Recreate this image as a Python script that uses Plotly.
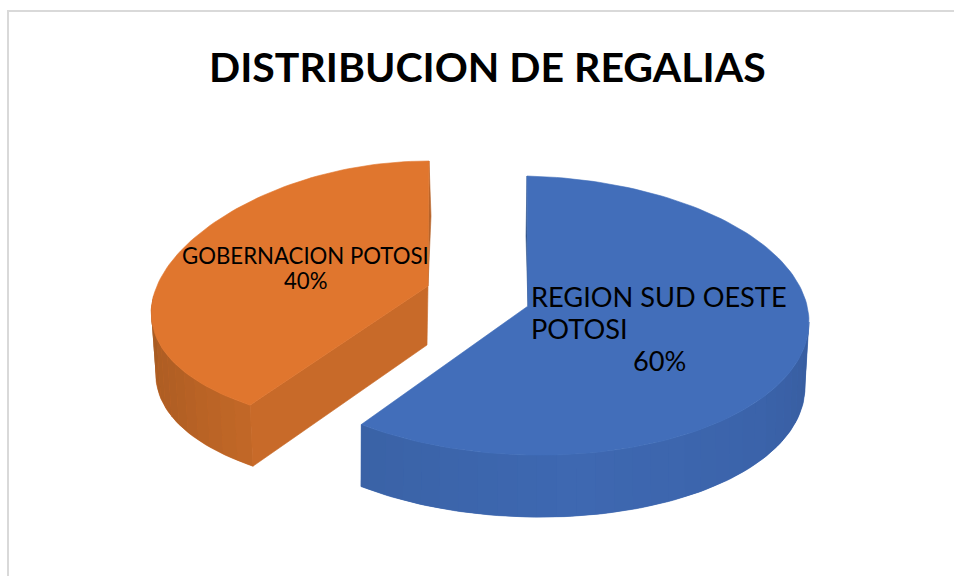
import math
import plotly.graph_objects as go

# ---- data ----
labels = ["REGION SUD OESTE POTOSI", "GOBERNACION POTOSI"]
values = [60, 40]
label_lines = [["REGION SUD OESTE", "POTOSI"], ["GOBERNACION POTOSI"]]
title_text = "DISTRIBUCION DE REGALIAS"

# ---- styling / projection of each exploded slice (pixel-based canvas) ----
W, H = 954, 576
BLUE = dict(top="#426EBA", side="#3D66AF", sliver="#34588F",
            ramp=[(90, "#375C9E"), (125, "#3B63AA"), (170, "#3E68B1"), (216, "#3A62A6")],
            cx=527, cy=315.5, rx=282, ry=139.5, k=0.0, t=6.5, apex=(528, 306),
            bcx=527, bcy=377.5, brx=278, bry=139.5, bk=0.02, bt=6.5)
ORANGE = dict(top="#E0762E", side="#C86A29", sliver="#B8642A",
              ramp=[(216, "#C26827"), (240, "#B25F24"), (270, "#A85B22")],
              cx=429, cy=296, rx=275.5, ry=135, k=0.13, t=0, apex=(428, 286),
              bcx=429, bcy=357, brx=271, bry=135, bk=0.13, bt=0)


def pt(s, th, bottom=False):
    a = math.radians(th)
    if bottom:
        cx, cy, rx, ry, k, t = s["bcx"], s["bcy"], s["brx"], s["bry"], s["bk"], s["bt"]
    else:
        cx, cy, rx, ry, k, t = s["cx"], s["cy"], s["rx"], s["ry"], s["k"], s["t"]
    return (cx + rx * math.sin(a) * (1 - k * math.cos(a)),
            cy - ry * math.cos(a) + t * math.sin(a))


def hex2rgb(c):
    return [int(c[i:i + 2], 16) for i in (1, 3, 5)]


def ramp_color(ramp, th):
    for (a, ca), (b, cb) in zip(ramp, ramp[1:]):
        if a <= th <= b:
            f = (th - a) / (b - a)
            ra, rb = hex2rgb(ca), hex2rgb(cb)
            return "rgb(%d,%d,%d)" % tuple(round(x + (y - x) * f) for x, y in zip(ra, rb))
    return ramp[-1][1]


def poly(fig, pts, color, lw=0.6):
    xs = [p[0] for p in pts] + [pts[0][0]]
    ys = [p[1] for p in pts] + [pts[0][1]]
    fig.add_trace(go.Scatter(x=xs, y=ys, mode="lines", fill="toself", fillcolor=color,
                             line=dict(color=color, width=lw), hoverinfo="skip",
                             showlegend=False))


total = sum(values)
sweep_blue = 360 * values[0] / total          # first slice: 12 o'clock clockwise
start_orange, end_orange = sweep_blue, 360.0

fig = go.Figure()


def arc(s, a, b, bottom=False, step=1.5):
    n = max(2, int(abs(b - a) / step))
    return [pt(s, a + (b - a) * i / n, bottom) for i in range(n + 1)]


def wall(s, a, b, step=4.0):
    # base fill first so the strip seams never show the white page
    poly(fig, arc(s, a, b) + arc(s, b, a, True), s["side"])
    th = a
    while th < b - 1e-6:
        e = min(th + step, b)
        poly(fig, arc(s, th, e, step=1) + arc(s, e, th, True, step=1),
             ramp_color(s["ramp"], (th + e) / 2), lw=0)
        th = e


# orange slice: outer wall, radial wall, back sliver, top
wall(ORANGE, start_orange, 270)
tip = pt(ORANGE, start_orange)
tip_b = pt(ORANGE, start_orange, True)
ax, ay = ORANGE["apex"]
depth = tip_b[1] - tip[1]
poly(fig, [tip, tip_b, (ax - 1, ay + depth - 2), (ax, ay)], ORANGE["side"])
o_top = pt(ORANGE, end_orange)
poly(fig, [o_top, (o_top[0] + 2, ay - 70), (ax, ay)], ORANGE["sliver"])
poly(fig, arc(ORANGE, start_orange, end_orange) + [(ax, ay)], ORANGE["top"])

# blue slice: outer wall, back sliver, top
wall(BLUE, 90, sweep_blue)
b_top = pt(BLUE, 0)
bx, by = BLUE["apex"]
poly(fig, [b_top, (b_top[0] - 1, by - 70), (bx, by)], BLUE["sliver"])
poly(fig, arc(BLUE, 0, sweep_blue) + [(bx, by)], BLUE["top"])

# frame
fig.add_shape(type="rect", x0=8, y0=11, x1=W + 20, y1=H + 20,
              line=dict(color="#D9D9D9", width=2), layer="below")

# text
FONT = "Lato, Carlito, Calibri, sans-serif"
TXT = "#000000"


def note(x, y, text, size, anchor="center", bold=False):
    fig.add_annotation(x=x, y=y, text=f"<b>{text}</b>" if bold else text, showarrow=False,
                       xanchor=anchor, yanchor="middle",
                       font=dict(family=FONT, size=size, color=TXT))


note(487.5, 66, title_text, 41, bold=True)
note(529, 296.5, label_lines[0][0], 27.2, "left")
note(529, 328.5, label_lines[0][1], 27.2, "left")
note(659, 360.5, f"{round(100 * values[0] / total)}%", 27.2)
note(305.5, 255, label_lines[1][0], 22.2)
note(305.5, 280, f"{round(100 * values[1] / total)}%", 22.2)

fig.update_layout(
    width=W, height=H, margin=dict(l=0, r=0, t=0, b=0),
    paper_bgcolor="white", plot_bgcolor="white", showlegend=False,
    xaxis=dict(range=[0, W], visible=False, fixedrange=True),
    yaxis=dict(range=[H, 0], visible=False, fixedrange=True),
)
fig.write_html("out.html", config={"displayModeBar": False},
               post_script="document.body.style.margin='0';document.body.style.overflow='hidden';")
